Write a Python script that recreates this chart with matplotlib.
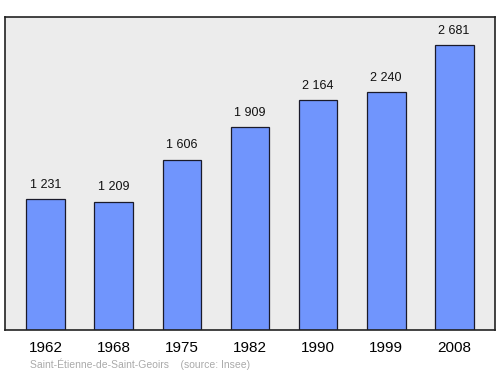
import matplotlib
matplotlib.use("Agg")
import matplotlib.pyplot as plt

years = ["1962", "1968", "1975", "1982", "1990", "1999", "2008"]
population = [1231, 1209, 1606, 1909, 2164, 2240, 2681]
labels = ["1 231", "1 209", "1 606", "1 909", "2 164", "2 240", "2 681"]

plt.rcParams['font.family'] = ['Liberation Sans', 'DejaVu Sans']
fig = plt.figure(figsize=(5, 3.74), dpi=100)
ax = fig.add_axes([0.01, 0.1176, 0.98, 0.8369])
ax.set_facecolor('#ececec')
x = range(len(years))
ax.bar(x, population, width=0.57, color='#7095fd', edgecolor='#1a1a2a', linewidth=0.9, zorder=2)
for xi, v, l in zip(x, population, labels):
    ax.text(xi, v + 80, l, ha='center', va='bottom', fontsize=9, color='#111111')
ax.set_xlim(-0.6, 6.6)
ax.set_ylim(0, 2949)
ax.set_xticks(list(x))
ax.set_xticklabels(years, fontsize=11)
ax.tick_params(axis='x', length=0, pad=8)
ax.set_yticks([])
for s in ax.spines.values():
    s.set_linewidth(1.2)
    s.set_color('#222222')
fig.text(0.06, 0.01, "Saint-Étienne-de-Saint-Geoirs    (source: Insee)", fontsize=7.5, color='#aaaaaa', ha='left', va='bottom')
fig.savefig('out.png', dpi=100)
